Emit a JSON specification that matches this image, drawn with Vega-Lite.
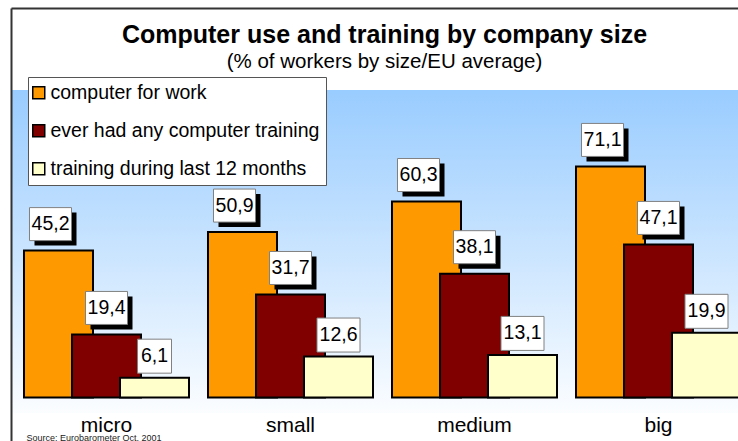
{
  "$schema": "https://vega.github.io/schema/vega-lite/v6.json",
  "width": 743,
  "height": 436,
  "autosize": "none",
  "padding": {"left": 11, "top": 8, "right": -16, "bottom": -3},
  "background": "white",
  "view": {
    "stroke": null,
    "fill": {"gradient": "linear", "x1": 0, "y1": 0, "x2": 0, "y2": 1,
      "stops": [
        {"offset": 0, "color": "#ffffff"},
        {"offset": 0.188, "color": "#ffffff"},
        {"offset": 0.188, "color": "#99ccff"},
        {"offset": 0.929, "color": "#fbfdff"},
        {"offset": 0.93, "color": "#ffffff"},
        {"offset": 1, "color": "#ffffff"}
      ]}
  },
  "config": {
    "font": "Liberation Sans",
    "locale": {"number": {"decimal": ",", "thousands": ".", "grouping": [3], "currency": ["", " €"]}},
    "legend": {
      "orient": "none", "legendX": 17, "legendY": 69,
      "fillColor": "white", "strokeColor": "#555555", "padding": 6,
      "labelFontSize": 19.5, "labelColor": "black", "labelLimit": 400,
      "symbolType": "square", "symbolSize": 144, "symbolStrokeColor": "black",
      "symbolStrokeWidth": 1.5, "symbolOpacity": 1, "rowPadding": 17,
      "labelOffset": 2, "symbolOffset": -5
    }
  },
  "title": {
    "text": "Computer use and training by company size",
    "subtitle": "(% of workers by size/EU average)",
    "fontSize": 25, "fontWeight": "bold", "color": "black",
    "subtitleFontSize": 20.5, "subtitleColor": "black", "subtitlePadding": 4,
    "anchor": "middle", "offset": -64, "dx": 2
  },
  "data": {"values": [
    {"size": "micro", "series": "computer for work", "value": 45.2},
    {"size": "small", "series": "computer for work", "value": 50.9},
    {"size": "medium", "series": "computer for work", "value": 60.3},
    {"size": "big", "series": "computer for work", "value": 71.1},
    {"size": "micro", "series": "ever had any computer training", "value": 19.4},
    {"size": "small", "series": "ever had any computer training", "value": 31.7},
    {"size": "medium", "series": "ever had any computer training", "value": 38.1},
    {"size": "big", "series": "ever had any computer training", "value": 47.1},
    {"size": "micro", "series": "training during last 12 months", "value": 6.1},
    {"size": "small", "series": "training during last 12 months", "value": 12.6},
    {"size": "medium", "series": "training during last 12 months", "value": 13.1},
    {"size": "big", "series": "training during last 12 months", "value": 19.9}
  ]},
  "encoding": {
    "x": {
      "field": "size", "type": "nominal", "sort": ["micro", "small", "medium", "big"],
      "scale": {"paddingInner": 0.10326, "paddingOuter": 0.07065},
      "axis": {
        "orient": "bottom", "domain": false, "ticks": false, "grid": false,
        "labelAngle": 0, "labelFontSize": 21, "labelColor": "black",
        "labelPadding": -13, "labelBaseline": "alphabetic", "labelOverlap": false,
        "title": "Source: Eurobarometer Oct. 2001", "titleFontSize": 9,
        "titleFontWeight": "normal", "titleColor": "#222222",
        "titleX": 15, "titleY": -4, "titleAlign": "left", "titleAnchor": "start",
        "titleBaseline": "alphabetic"
      }
    },
    "xOffset": {
      "field": "series", "type": "nominal",
      "sort": ["computer for work", "ever had any computer training", "training during last 12 months"],
      "scale": {"paddingInner": 0, "paddingOuter": 0.21875}
    },
    "y": {
      "field": "value", "type": "quantitative", "stack": null,
      "scale": {"domain": [-14.31, 119.85], "nice": false, "zero": false},
      "axis": {
        "orient": "left", "title": null, "labels": false, "ticks": false,
        "domain": true, "domainColor": "#333333", "domainWidth": 2,
        "grid": true, "gridColor": "#333333", "gridWidth": 2, "gridOpacity": 1,
        "values": [119.85], "offset": 0
      }
    }
  },
  "layer": [
    {
      "mark": {"type": "bar", "width": 69, "stroke": "black", "strokeWidth": 2},
      "encoding": {
        "color": {
          "field": "series", "type": "nominal",
          "sort": ["computer for work", "ever had any computer training", "training during last 12 months"],
          "scale": {"range": ["#ff9900", "#800000", "#ffffcc"]},
          "legend": {"title": null}
        }
      }
    },
    {
      "transform": [{"filter": "datum.series == 'computer for work'"}],
      "mark": {"type": "point", "shape": "M -0.48 -0.76 H 0.36 V -0.1 H -0.48 Z", "size": 10000, "filled": true, "fill": "black", "strokeWidth": 0, "opacity": 1}
    },
    {
      "transform": [{"filter": "datum.series == 'ever had any computer training'"}],
      "mark": {"type": "point", "shape": "M -0.32 -0.76 H 0.52 V -0.1 H -0.32 Z", "size": 10000, "filled": true, "fill": "black", "strokeWidth": 0, "opacity": 1}
    },
    {
      "transform": [{"filter": "datum.series == 'computer for work'"}],
      "mark": {"type": "point", "shape": "M -0.58 -0.86 H 0.26 V -0.2 H -0.58 Z", "size": 10000, "filled": true, "fill": "white", "stroke": "#808080", "strokeWidth": 1, "opacity": 1}
    },
    {
      "transform": [{"filter": "datum.series == 'ever had any computer training'"}],
      "mark": {"type": "point", "shape": "M -0.42 -0.86 H 0.42 V -0.2 H -0.42 Z", "size": 10000, "filled": true, "fill": "white", "stroke": "#808080", "strokeWidth": 1, "opacity": 1}
    },
    {
      "transform": [{"filter": "datum.series == 'training during last 12 months' && datum.value >= 10"}],
      "mark": {"type": "point", "shape": "M -0.43 -0.77 H 0.43 V -0.09 H -0.43 Z", "size": 10000, "filled": true, "fill": "white", "stroke": "#808080", "strokeWidth": 1, "opacity": 1}
    },
    {
      "transform": [{"filter": "datum.series == 'training during last 12 months' && datum.value < 10"}],
      "mark": {"type": "point", "shape": "M -0.34 -0.77 H 0.34 V -0.09 H -0.34 Z", "size": 10000, "filled": true, "fill": "white", "stroke": "#808080", "strokeWidth": 1, "opacity": 1}
    },
    {
      "transform": [{"filter": "datum.series == 'computer for work'"}],
      "mark": {"type": "text", "fontSize": 19.5, "color": "black", "baseline": "middle", "align": "center", "dx": -8, "dy": -26.5},
      "encoding": {"text": {"field": "value", "type": "quantitative", "format": ".1f"}}
    },
    {
      "transform": [{"filter": "datum.series == 'ever had any computer training'"}],
      "mark": {"type": "text", "fontSize": 19.5, "color": "black", "baseline": "middle", "align": "center", "dy": -26.5},
      "encoding": {"text": {"field": "value", "type": "quantitative", "format": ".1f"}}
    },
    {
      "transform": [{"filter": "datum.series == 'training during last 12 months'"}],
      "mark": {"type": "text", "fontSize": 19.5, "color": "black", "baseline": "middle", "align": "center", "dy": -21.5},
      "encoding": {"text": {"field": "value", "type": "quantitative", "format": ".1f"}}
    }
  ]
}
